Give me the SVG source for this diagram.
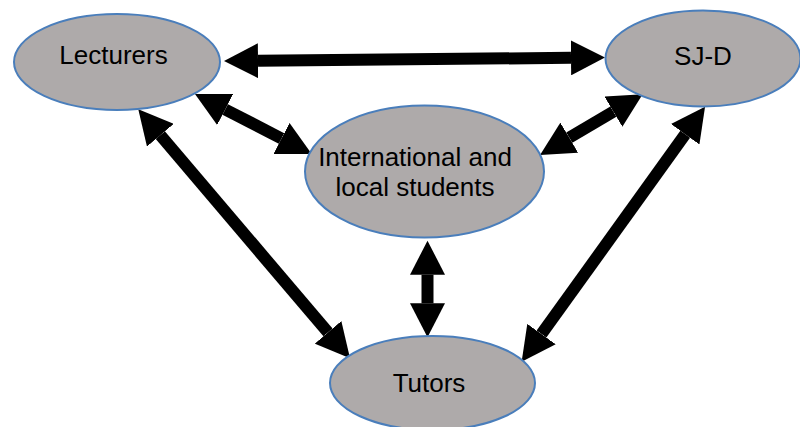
<svg xmlns="http://www.w3.org/2000/svg" width="800" height="427" viewBox="0 0 800 427">
<style>
.node{fill:#AEAAAA;stroke:#4A7EBB;stroke-width:2}
.lbl{font-family:"Liberation Sans",Arial,sans-serif;font-size:26px;fill:#000;text-anchor:middle}
.conn{stroke:#000;stroke-width:12;fill:none;marker-start:url(#head);marker-end:url(#head)}
</style>
<defs>
<marker id="head" markerUnits="userSpaceOnUse" markerWidth="35" markerHeight="35" refX="0" refY="17.5" orient="auto-start-reverse" viewBox="0 0 35 35">
<path d="M0,0 L34,17.5 L0,35 z" fill="#000"/>
</marker>
</defs>
<rect width="800" height="427" fill="#fff"/>
<g id="connectors">
<line class="conn" x1="258" y1="60.7" x2="571" y2="57.8"/>
<line class="conn" x1="225.2" y1="109.5" x2="281.5" y2="138.5"/>
<line class="conn" x1="613.4" y1="111.6" x2="569.3" y2="137.7"/>
<line class="conn" x1="160.3" y1="135.2" x2="328" y2="332.4"/>
<line class="conn" x1="685.2" y1="134.3" x2="541.5" y2="334.1"/>
<line class="conn" x1="427.5" y1="274.7" x2="427.5" y2="303.3"/>
</g>
<g id="lecturers">
<ellipse class="node" cx="117" cy="62" rx="103" ry="48"/>
<text class="lbl" x="113.5" y="64">Lecturers</text>
</g>
<g id="sjd">
<ellipse class="node" cx="703" cy="58.5" rx="97.5" ry="48"/>
<text class="lbl" x="703" y="65">SJ-D</text>
</g>
<g id="students">
<ellipse class="node" cx="424.5" cy="171.5" rx="119.5" ry="66"/>
<text class="lbl" x="415" y="166">International and</text>
<text class="lbl" x="415" y="196">local students</text>
</g>
<g id="tutors">
<ellipse class="node" cx="432.5" cy="383" rx="102.5" ry="47"/>
<text class="lbl" x="429" y="392">Tutors</text>
</g>
</svg>
